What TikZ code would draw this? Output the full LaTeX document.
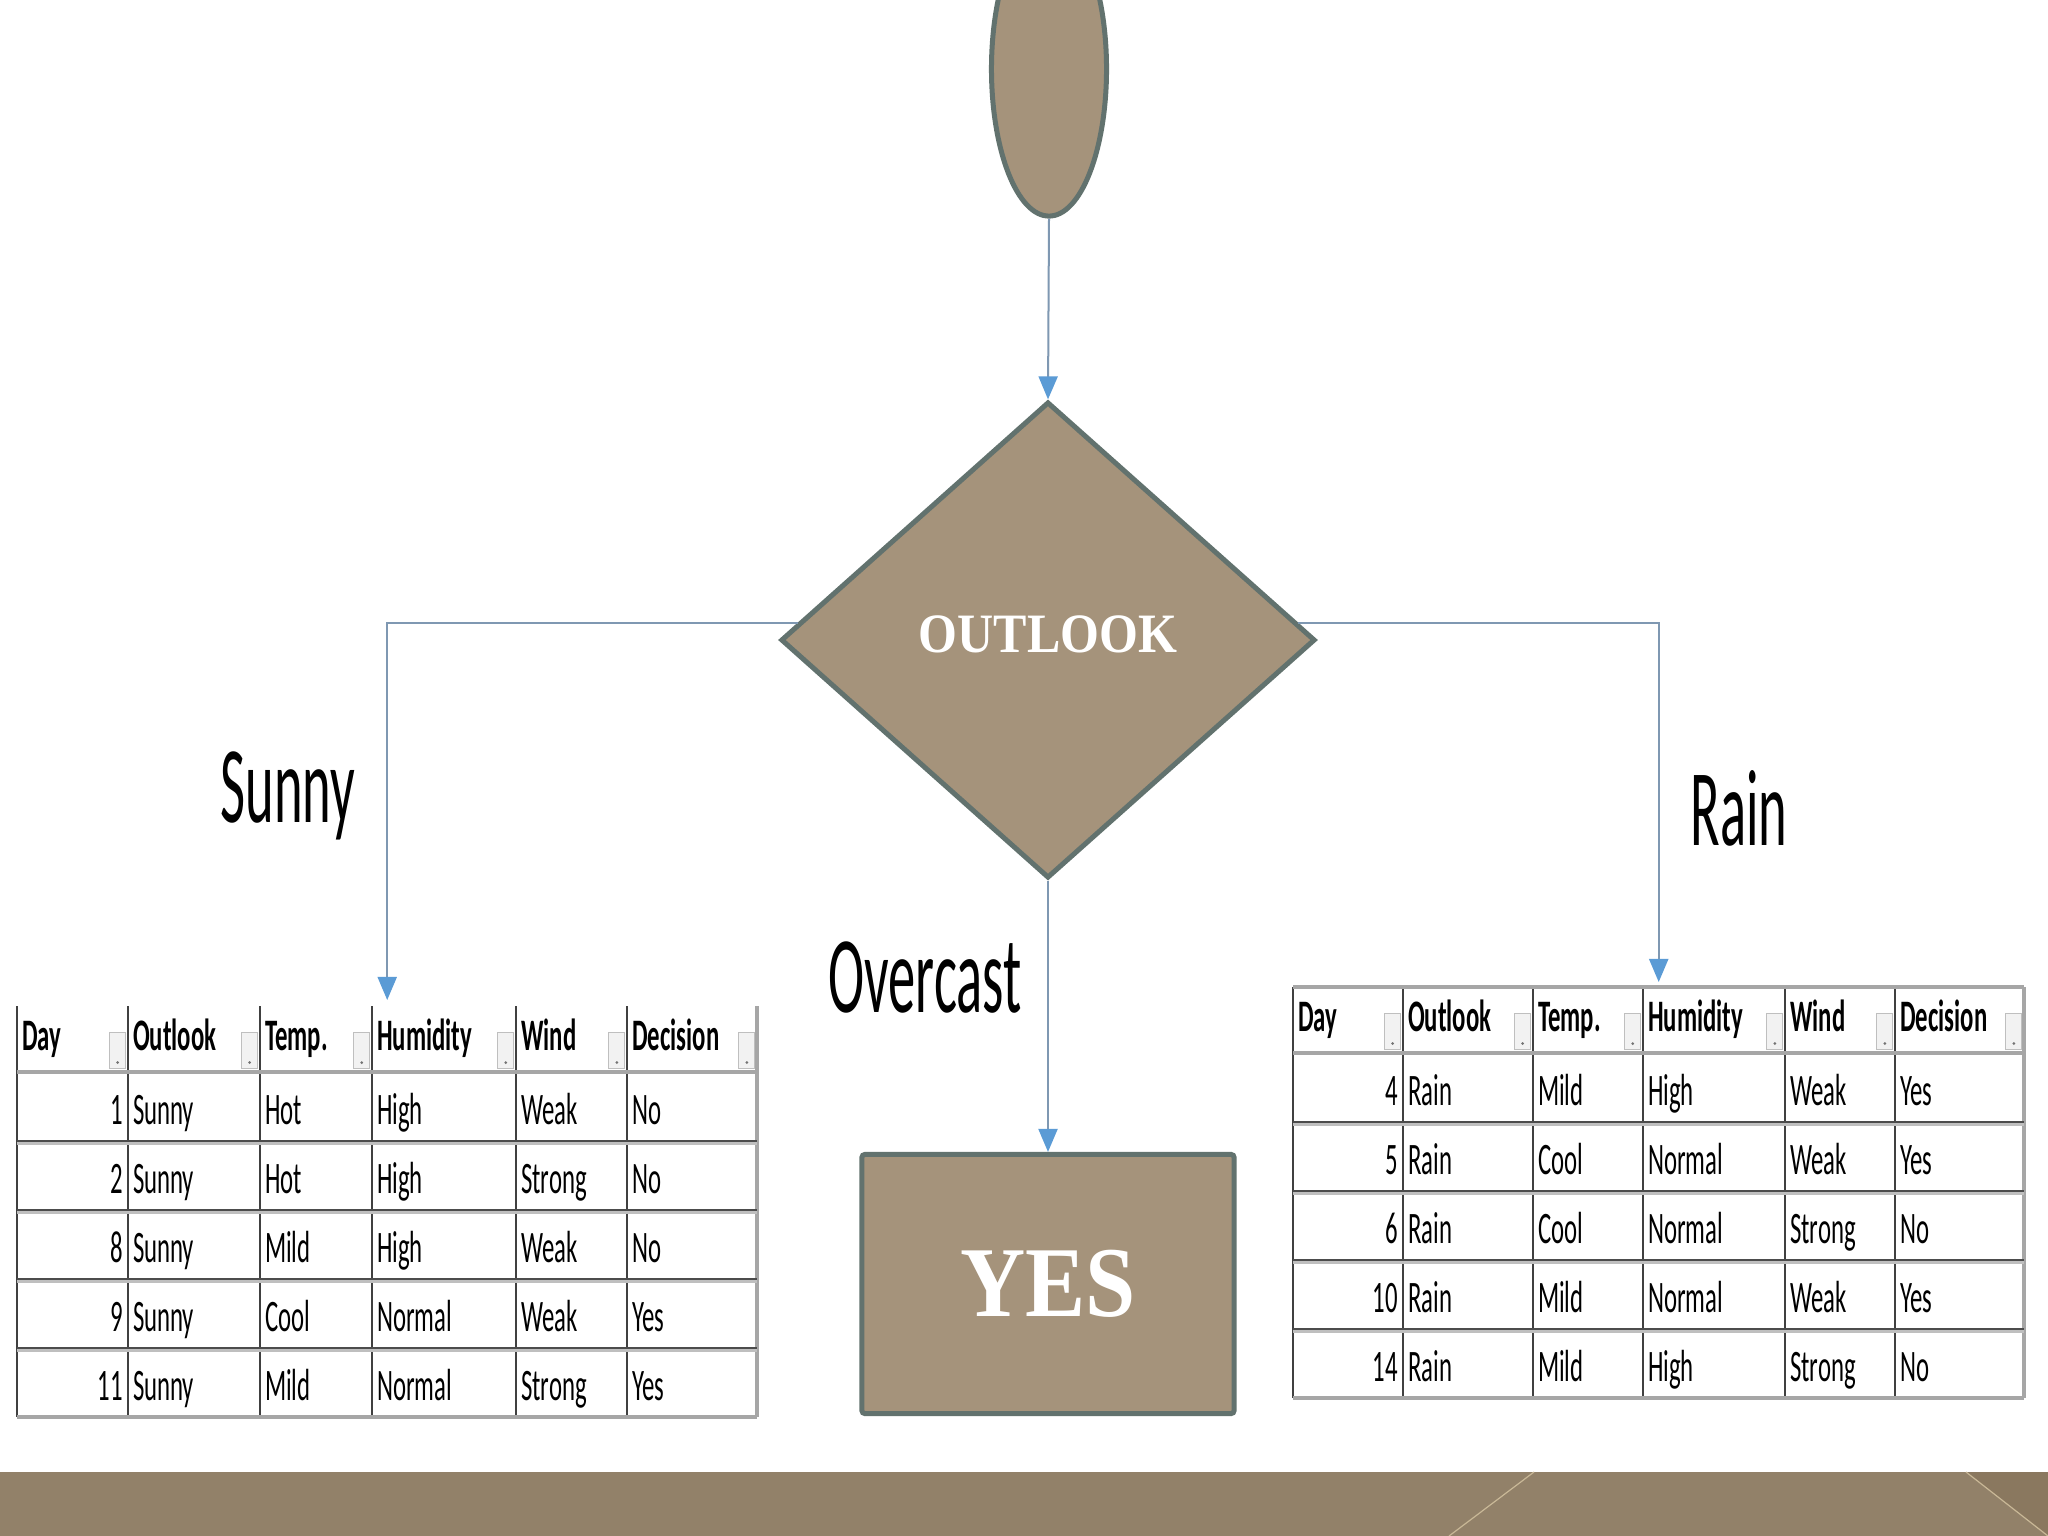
\documentclass[tikz,border=0pt]{standalone}
\usepackage{fontspec}
\usetikzlibrary{arrows.meta,shapes.geometric,matrix}

\newfontfamily\lblfont[FakeStretch=0.5]{Carlito}
\newfontfamily\cellfont[FakeStretch=0.55]{Carlito}
\newfontfamily\shapefont[FakeStretch=0.9]{Liberation Serif}

\definecolor{nodefill}{HTML}{A5937B}
\definecolor{nodeedge}{HTML}{62726E}
\definecolor{linkgray}{HTML}{7F98B2}
\definecolor{linkblue}{HTML}{5B9BD5}
\definecolor{barbrown}{HTML}{928169}
\definecolor{bardark}{HTML}{8A785F}
\definecolor{barlight}{HTML}{C9B897}

\tikzset{
  shape node/.style={fill=nodefill, draw=nodeedge, line width=0.05cm, inner sep=0pt, text=white},
  link/.style={draw=linkgray, line width=0.02cm,
    -{Stealth[inset=0pt, length=0.23cm, width=0.19cm, color=linkblue]}},
  branch/.style={font=\lblfont\fontsize{31}{31}\selectfont, anchor=base, inner sep=0pt},
  weather table/.style={matrix of nodes, anchor=north west,
    inner sep=0pt, outer sep=0pt, column sep=0pt, row sep=0pt,
    nodes={font=\cellfont\fontsize{12.8}{12.8}\selectfont, align=left, anchor=center,
      inner xsep=0.05cm, inner ysep=0.08cm, outer sep=0pt, text height=0.44cm, text depth=0.09cm},
    column 1/.style={nodes={text width=1.01cm, align=right}},
    column 2/.style={nodes={text width=1.22cm}},
    column 3/.style={nodes={text width=1.02cm}},
    column 4/.style={nodes={text width=1.34cm}},
    column 5/.style={nodes={text width=1.01cm}},
    column 6/.style={nodes={text width=1.20cm}},
    row 1/.style={nodes={font=\cellfont\bfseries\fontsize{12.8}{12.8}\selectfont,
      align=left, text height=0.36cm, text depth=0.14cm}}},
  narrow table/.style={
    column 1/.style={nodes={text width=1.00cm, align=right}},
    column 2/.style={nodes={text width=1.20cm}},
    column 3/.style={nodes={text width=1.00cm}},
    column 4/.style={nodes={text width=1.32cm}},
    column 5/.style={nodes={text width=1.00cm}},
    column 6/.style={nodes={text width=1.19cm}}},
  col rule/.style={draw=black!75, line width=0.02cm},
  row rule/.style={draw=black!70, line width=0.02cm},
  row shade/.style={draw=black!25, line width=0.025cm},
  edge rule/.style={draw=black!35, line width=0.04cm},
  filter btn/.style={draw=black!25, fill=black!5, line width=0.01cm, minimum width=0.16cm,
    minimum height=0.36cm, inner sep=0pt, anchor=south east,
    path picture={\fill[black!55] ([yshift=0.06cm]path picture bounding box.south) circle (0.015cm);}}
}

\begin{document}
\begin{tikzpicture}[x=0.01cm, y=-0.01cm]
  \useasboundingbox (0,0) rectangle (2048,1536);
  \clip (0,0) rectangle (2048,1536);
  \fill[white] (0,0) rectangle (2048,1536);

  % slide footer
  \fill[barbrown] (0,1472) rectangle (2048,1536);
  \fill[bardark] (1966,1472) -- (2048,1472) -- (2048,1536) -- cycle;
  \draw[barlight, line width=0.012cm] (1534,1472) -- (1449,1536);
  \draw[barlight, line width=0.012cm] (1966,1472) -- (2048,1536);

  % tree nodes
  \node[shape node, ellipse, minimum width=1.15cm, minimum height=2.94cm] (start) at (1049,69) {};
  \node[shape node, diamond, minimum width=5.34cm, minimum height=4.76cm, text depth=0.12cm,
    font=\shapefont\bfseries\fontsize{15.8}{15.8}\selectfont] (outlook) at (1048,640) {OUTLOOK};
  \node[shape node, rectangle, rounded corners=0.03cm, minimum width=3.72cm, minimum height=2.59cm,
    font=\shapefont\bfseries\fontsize{28.5}{28.5}\selectfont] (leaf) at (1048,1284) {YES};

  % subsets
  \matrix (sunny) at (17,1006) [weather table, ampersand replacement=\&]{
    Day \& Outlook \& Temp. \& Humidity \& Wind   \& Decision \\
    1   \& Sunny   \& Hot   \& High     \& Weak   \& No       \\
    2   \& Sunny   \& Hot   \& High     \& Strong \& No       \\
    8   \& Sunny   \& Mild  \& High     \& Weak   \& No       \\
    9   \& Sunny   \& Cool  \& Normal   \& Weak   \& Yes      \\
    11  \& Sunny   \& Mild  \& Normal   \& Strong \& Yes      \\
  };
  \matrix (rain) at (1293,987) [weather table, narrow table, ampersand replacement=\&]{
    Day \& Outlook \& Temp. \& Humidity \& Wind   \& Decision \\
    4   \& Rain    \& Mild  \& High     \& Weak   \& Yes      \\
    5   \& Rain    \& Cool  \& Normal   \& Weak   \& Yes      \\
    6   \& Rain    \& Cool  \& Normal   \& Strong \& No       \\
    10  \& Rain    \& Mild  \& Normal   \& Weak   \& Yes      \\
    14  \& Rain    \& Mild  \& High     \& Strong \& No       \\
  };

  % table rules and filter buttons
  \foreach \t in {sunny,rain} {
    \foreach \c in {1,...,6}
      \draw[col rule] (\t-1-\c.north west) -- (\t-6-\c.south west);
    \draw[edge rule] (\t-1-6.north east) -- (\t-6-6.south east);
    \foreach \r in {2,...,5} {
      \draw[row rule] (\t-\r-1.south west) -- (\t-\r-6.south east);
      \draw[row shade] ([yshift=-0.025cm]\t-\r-1.south west) -- ([yshift=-0.025cm]\t-\r-6.south east);
    }
    \draw[edge rule] (\t-1-1.south west) -- (\t-1-6.south east);
    \draw[edge rule] (\t-6-1.south west) -- (\t-6-6.south east);
    \foreach \c in {1,...,6}
      \node[filter btn] (\t-btn-\c) at ([xshift=-0.02cm,yshift=0.03cm]\t-1-\c.south east) {};
  }
  \draw[edge rule] (rain-1-1.north west) -- (rain-1-6.north east);

  % branch labels
  \node[branch] (sunnylbl) at (288,822) {Sunny};
  \node[branch] (overcastlbl) at (925,1012) {Overcast};
  \node[branch] (rainlbl) at (1739,845) {Rain};

  % connectors
  \draw[link] (start.south) -- (outlook.north);
  \draw[link, shorten >=0.06cm] (outlook.176) -| (sunny.north);
  \draw[link, shorten >=0.05cm] (outlook.4) -| (rain.north);
  \draw[link] (outlook.south) -- (leaf.north);
\end{tikzpicture}
\end{document}
